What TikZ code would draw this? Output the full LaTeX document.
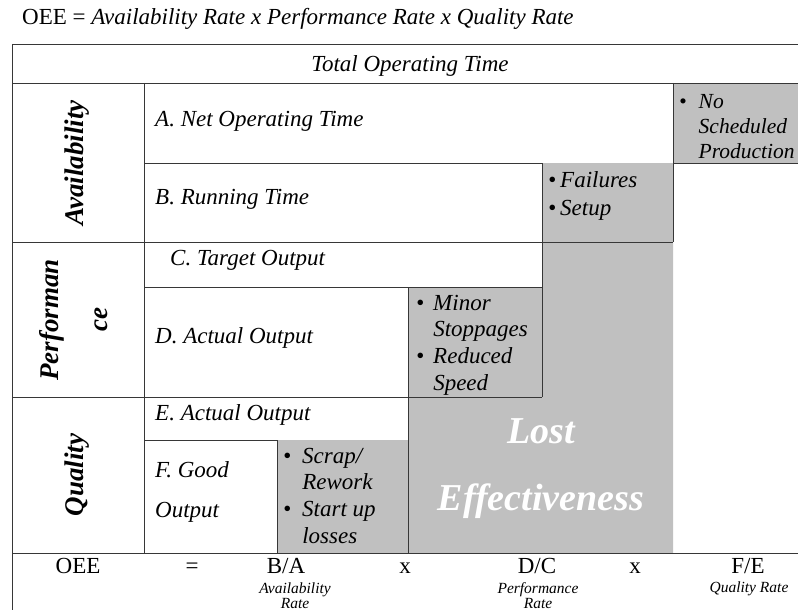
\documentclass[tikz,border=0pt]{standalone}
\usepackage{fontspec}
\setmainfont{Liberation Serif}
\definecolor{lossgray}{RGB}{192,192,192}
\definecolor{rulegray}{RGB}{55,55,55}
\tikzset{
  rule/.style={draw=rulegray,line width=0.9pt},
  cell/.style={inner sep=0pt,anchor=base west,font=\fontsize{23}{26.7}\selectfont\itshape},
  side/.style={inner sep=0pt,rotate=90,font=\fontsize{27}{32}\selectfont\bfseries\itshape},
  foot/.style={inner sep=0pt,anchor=base,font=\fontsize{23}{26}\selectfont},
  rate/.style={inner sep=0pt,anchor=base,font=\fontsize{15.5}{15}\selectfont\itshape},
}
\begin{document}
\begin{tikzpicture}[x=1pt,y=-1pt]
\useasboundingbox (0,0) rectangle (798,610);
\fill[lossgray] (673,83) rectangle (798,163);
\fill[lossgray] (542,163) -- (673,163) -- (673,553) -- (277,553) -- (277,440)
  -- (408,440) -- (408,287) -- (542,287) -- cycle;
\draw[rule] (12,44) -- (798,44);
\draw[rule] (12,83) -- (798,83);
\draw[rule] (12,44) -- (12,610);
\draw[rule] (144,83) -- (144,553);
\draw[rule] (144,163) -- (542,163);
\draw[rule] (673,163) -- (798,163);
\draw[rule] (673,83) -- (673,242);
\draw[rule] (12,242) -- (673,242);
\draw[rule] (144,287) -- (542,287);
\draw[rule] (542,163) -- (542,397);
\draw[rule] (12,397) -- (542,397);
\draw[rule] (408,287) -- (408,553);
\draw[rule] (144,440) -- (277,440) -- (277,553);
\draw[rule] (12,553) -- (798,553);
\node[cell,font=\fontsize{23}{26}\selectfont] (title) at (22,25)
  {OEE = \textit{Availability Rate x Performance Rate x Quality Rate}};
\node[cell,anchor=base] (total) at (410,72) {Total Operating Time};
\node[side] (avail) at (77,163) {Availability};
\node[side,font=\fontsize{27}{49}\selectfont\bfseries\itshape] (perf) at (73,320)
  {\begin{tabular}{@{}c@{}}Performan\\ce\end{tabular}};
\node[side] (qual) at (77,475) {Quality};
\node[cell] (netop) at (155,126) {A. Net Operating Time};
\node[cell] (run) at (155,204) {B. Running Time};
\node[cell] (target) at (170,265) {C. Target Output};
\node[cell] (actd) at (155,343) {D. Actual Output};
\node[cell] (acte) at (155,420) {E. Actual Output};
\node[cell] (good) at (155,477)
  {\begin{tabular}[t]{@{}l@{}}F. Good\\[13.3pt]Output\end{tabular}};
\node[cell,font=\fontsize{21.5}{25}\selectfont\itshape] (nosched) at (679,108)
  {\begin{tabular}[t]{@{}l@{\hspace{12pt}}l@{}}\textbullet & No\\ & Scheduled\\ & Production\end{tabular}};
\node[cell,font=\fontsize{23}{28}\selectfont\itshape] (fail) at (548,187)
  {\begin{tabular}[t]{@{}l@{\hspace{4pt}}l@{}}\textbullet & Failures\\ \textbullet & Setup\end{tabular}};
\node[cell] (minor) at (416,310)
  {\begin{tabular}[t]{@{}l@{\hspace{9pt}}l@{}}\textbullet & Minor\\ & Stoppages\\ \textbullet & Reduced\\ & Speed\end{tabular}};
\node[cell] (scrap) at (283,463)
  {\begin{tabular}[t]{@{}l@{\hspace{11pt}}l@{}}\textbullet & Scrap/\\ & Rework\\ \textbullet & Start up\\ & losses\end{tabular}};
\node[cell,anchor=base,text=white,font=\fontsize{38}{67}\selectfont\bfseries\itshape] (lost) at (541,443)
  {\begin{tabular}[t]{@{}c@{}}Lost\\Effectiveness\end{tabular}};
\node[foot] (oee) at (78,573) {OEE};
\node[foot] (eq) at (192,573) {=};
\node[foot] (ba) at (286,573) {B/A};
\node[foot] (x1) at (405,573) {x};
\node[foot] (dc) at (537,573) {D/C};
\node[foot] (x2) at (635,573) {x};
\node[foot] (fe) at (748,573) {F/E};
\node[rate] (arate) at (295,593) {\begin{tabular}[t]{@{}c@{}}Availability\\Rate\end{tabular}};
\node[rate] (prate) at (538,593) {\begin{tabular}[t]{@{}c@{}}Performance\\Rate\end{tabular}};
\node[rate] (qrate) at (749,592) {Quality Rate};
\end{tikzpicture}
\end{document}
